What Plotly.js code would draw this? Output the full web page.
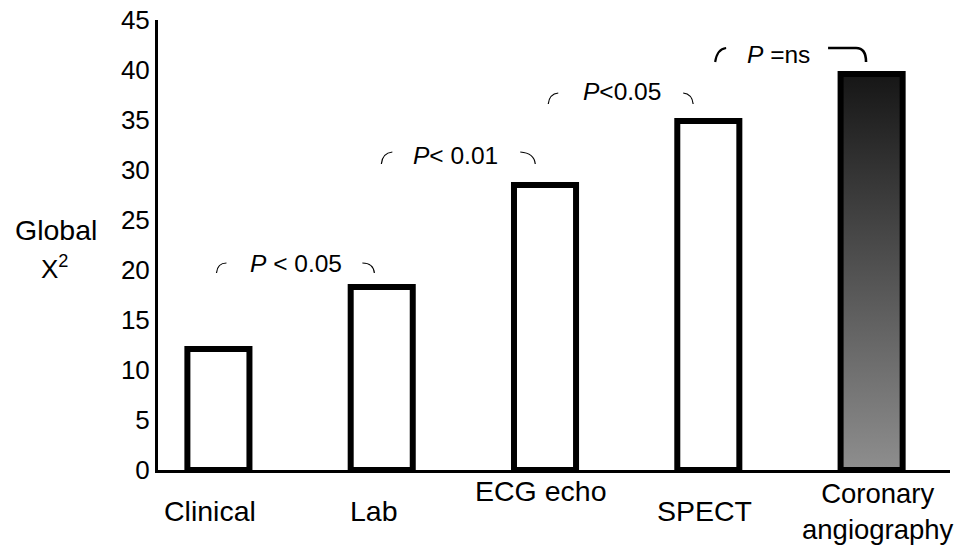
<!DOCTYPE html>
<html>
<head>
<meta charset="utf-8">
<script src="https://cdn.plot.ly/plotly-3.0.1.min.js"></script>
<style>html,body{margin:0;padding:0;background:#fff;}#chart{width:961px;height:548px;}</style>
</head>
<body>
<div id="chart"></div>
<script>
// ---- data ----
const categories = ["Clinical", "Lab", "ECG echo", "SPECT", "Coronary angiography"];
const categoryLabels = ["Clinical", "Lab", "ECG echo", "SPECT", "Coronary<br>angiography"];
const globalChi2 = [12.1, 18.3, 28.5, 34.9, 39.6];
const yTickVals = [0, 5, 10, 15, 20, 25, 30, 35, 40, 45];
const pLabels = ["<i>P</i> &lt; 0.05", "<i>P</i>&lt; 0.01", "<i>P</i>&lt;0.05", "<i>P</i> =ns"];

// ---- layout helpers (pixel -> paper) ----
const W = 961, H = 548;
const L = 157.5, R = 950, T = 20, B = 470;
const px = X => (X - L) / (R - L);
const py = Y => (B - Y) / (B - T);
const FONT = "Liberation Sans, Arial, Helvetica, sans-serif";

function qpath(x0, y0, cx, cy, x1, y1) {
  return `M ${px(x0)},${py(y0)} Q ${px(cx)},${py(cy)} ${px(x1)},${py(y1)}`;
}
function hookShape(path, w) {
  return {type: "path", xref: "paper", yref: "paper", path: path,
          line: {color: "#000", width: w}, layer: "above"};
}

const shapes = [
  hookShape(qpath(216, 273, 217, 263, 226, 263), 1.2),
  hookShape(qpath(362, 263, 373, 263, 374, 273), 1.2),
  hookShape(qpath(381, 164, 382, 153, 392, 152), 1.2),
  hookShape(qpath(520, 152, 534, 153, 535, 164), 1.2),
  hookShape(qpath(548, 104, 549, 94, 558, 93), 1.2),
  hookShape(qpath(683, 93, 692, 94, 693, 104), 1.2),
  hookShape(qpath(715, 62, 717, 49, 726, 48), 2.2),
  {type: "path", xref: "paper", yref: "paper", layer: "above",
   path: `M ${px(828)},${py(48)} L ${px(856)},${py(48)} Q ${px(866)},${py(48)} ${px(866)},${py(62)}`,
   line: {color: "#000", width: 2.6}}
];

const pPos = [[296, 263], [455, 155], [622, 91], [778, 55]];
const annotations = [];
pLabels.forEach((t, i) => {
  annotations.push({xref: "paper", yref: "paper", x: px(pPos[i][0]), y: py(pPos[i][1]),
    xanchor: "center", yanchor: "middle", text: t, showarrow: false,
    font: {family: FONT, size: 24.5, color: "#000"}});
});
const labelY = [511, 511, 491, 511, 512];
const labelShift = [-8, -8, -5, -4, 6];
const labelSize = [28.5, 28.5, 28.5, 28.5, 27.5];
categories.forEach((c, i) => {
  annotations.push({xref: "x", yref: "paper", x: c, y: py(labelY[i]),
    xanchor: "center", yanchor: "middle", text: categoryLabels[i], showarrow: false,
    xshift: labelShift[i], font: {family: FONT, size: labelSize[i], color: "#000"}});
});
annotations.push({xref: "paper", yref: "paper", x: px(55), y: py(230), xanchor: "center", yanchor: "middle",
  text: "Global", showarrow: false, font: {family: FONT, size: 28.5, color: "#000"}});
annotations.push({xref: "paper", yref: "paper", x: px(54), y: py(267), xanchor: "center", yanchor: "middle",
  text: "Χ<sup>2</sup>", showarrow: false, font: {family: FONT, size: 26, color: "#000"}});

const trace = {
  type: "bar",
  x: categories,
  y: globalChi2,
  width: 0.38,
  marker: {color: ["#fff", "#fff", "#fff", "#fff", "#555"], line: {color: "#000", width: 6}},
  hoverinfo: "x+y"
};

const layout = {
  width: W, height: H,
  margin: {l: L, r: W - R, t: T, b: H - B, pad: 0},
  paper_bgcolor: "#fff", plot_bgcolor: "#fff",
  showlegend: false,
  xaxis: {type: "category", range: [-0.37, 4.48], showticklabels: false, showline: true,
          linewidth: 3, linecolor: "#000", showgrid: false, zeroline: false, ticks: "", fixedrange: true},
  yaxis: {range: [0, 45], tickvals: yTickVals, showline: true, linewidth: 3, linecolor: "#000",
          showgrid: false, zeroline: false, ticks: "", fixedrange: true,
          tickfont: {family: FONT, size: 26, color: "#000"}},
  shapes: shapes,
  annotations: annotations
};

Plotly.newPlot("chart", [trace], layout, {displayModeBar: false, staticPlot: true}).then(gd => {
  const svg = gd.querySelector("svg.main-svg");
  const ns = "http://www.w3.org/2000/svg";
  let defs = svg.querySelector("defs");
  if (!defs) { defs = document.createElementNS(ns, "defs"); svg.insertBefore(defs, svg.firstChild); }
  const grad = document.createElementNS(ns, "linearGradient");
  grad.setAttribute("id", "coroGrad");
  grad.setAttribute("x1", "0"); grad.setAttribute("y1", "0");
  grad.setAttribute("x2", "0"); grad.setAttribute("y2", "1");
  [["0", "#161616"], ["1", "#8e8e8e"]].forEach(([o, c]) => {
    const s = document.createElementNS(ns, "stop");
    s.setAttribute("offset", o); s.setAttribute("stop-color", c);
    grad.appendChild(s);
  });
  defs.appendChild(grad);
  const paths = gd.querySelectorAll(".barlayer .point path");
  if (paths.length >= 5) paths[4].style.fill = "url(#coroGrad)";
});
</script>
</body>
</html>
